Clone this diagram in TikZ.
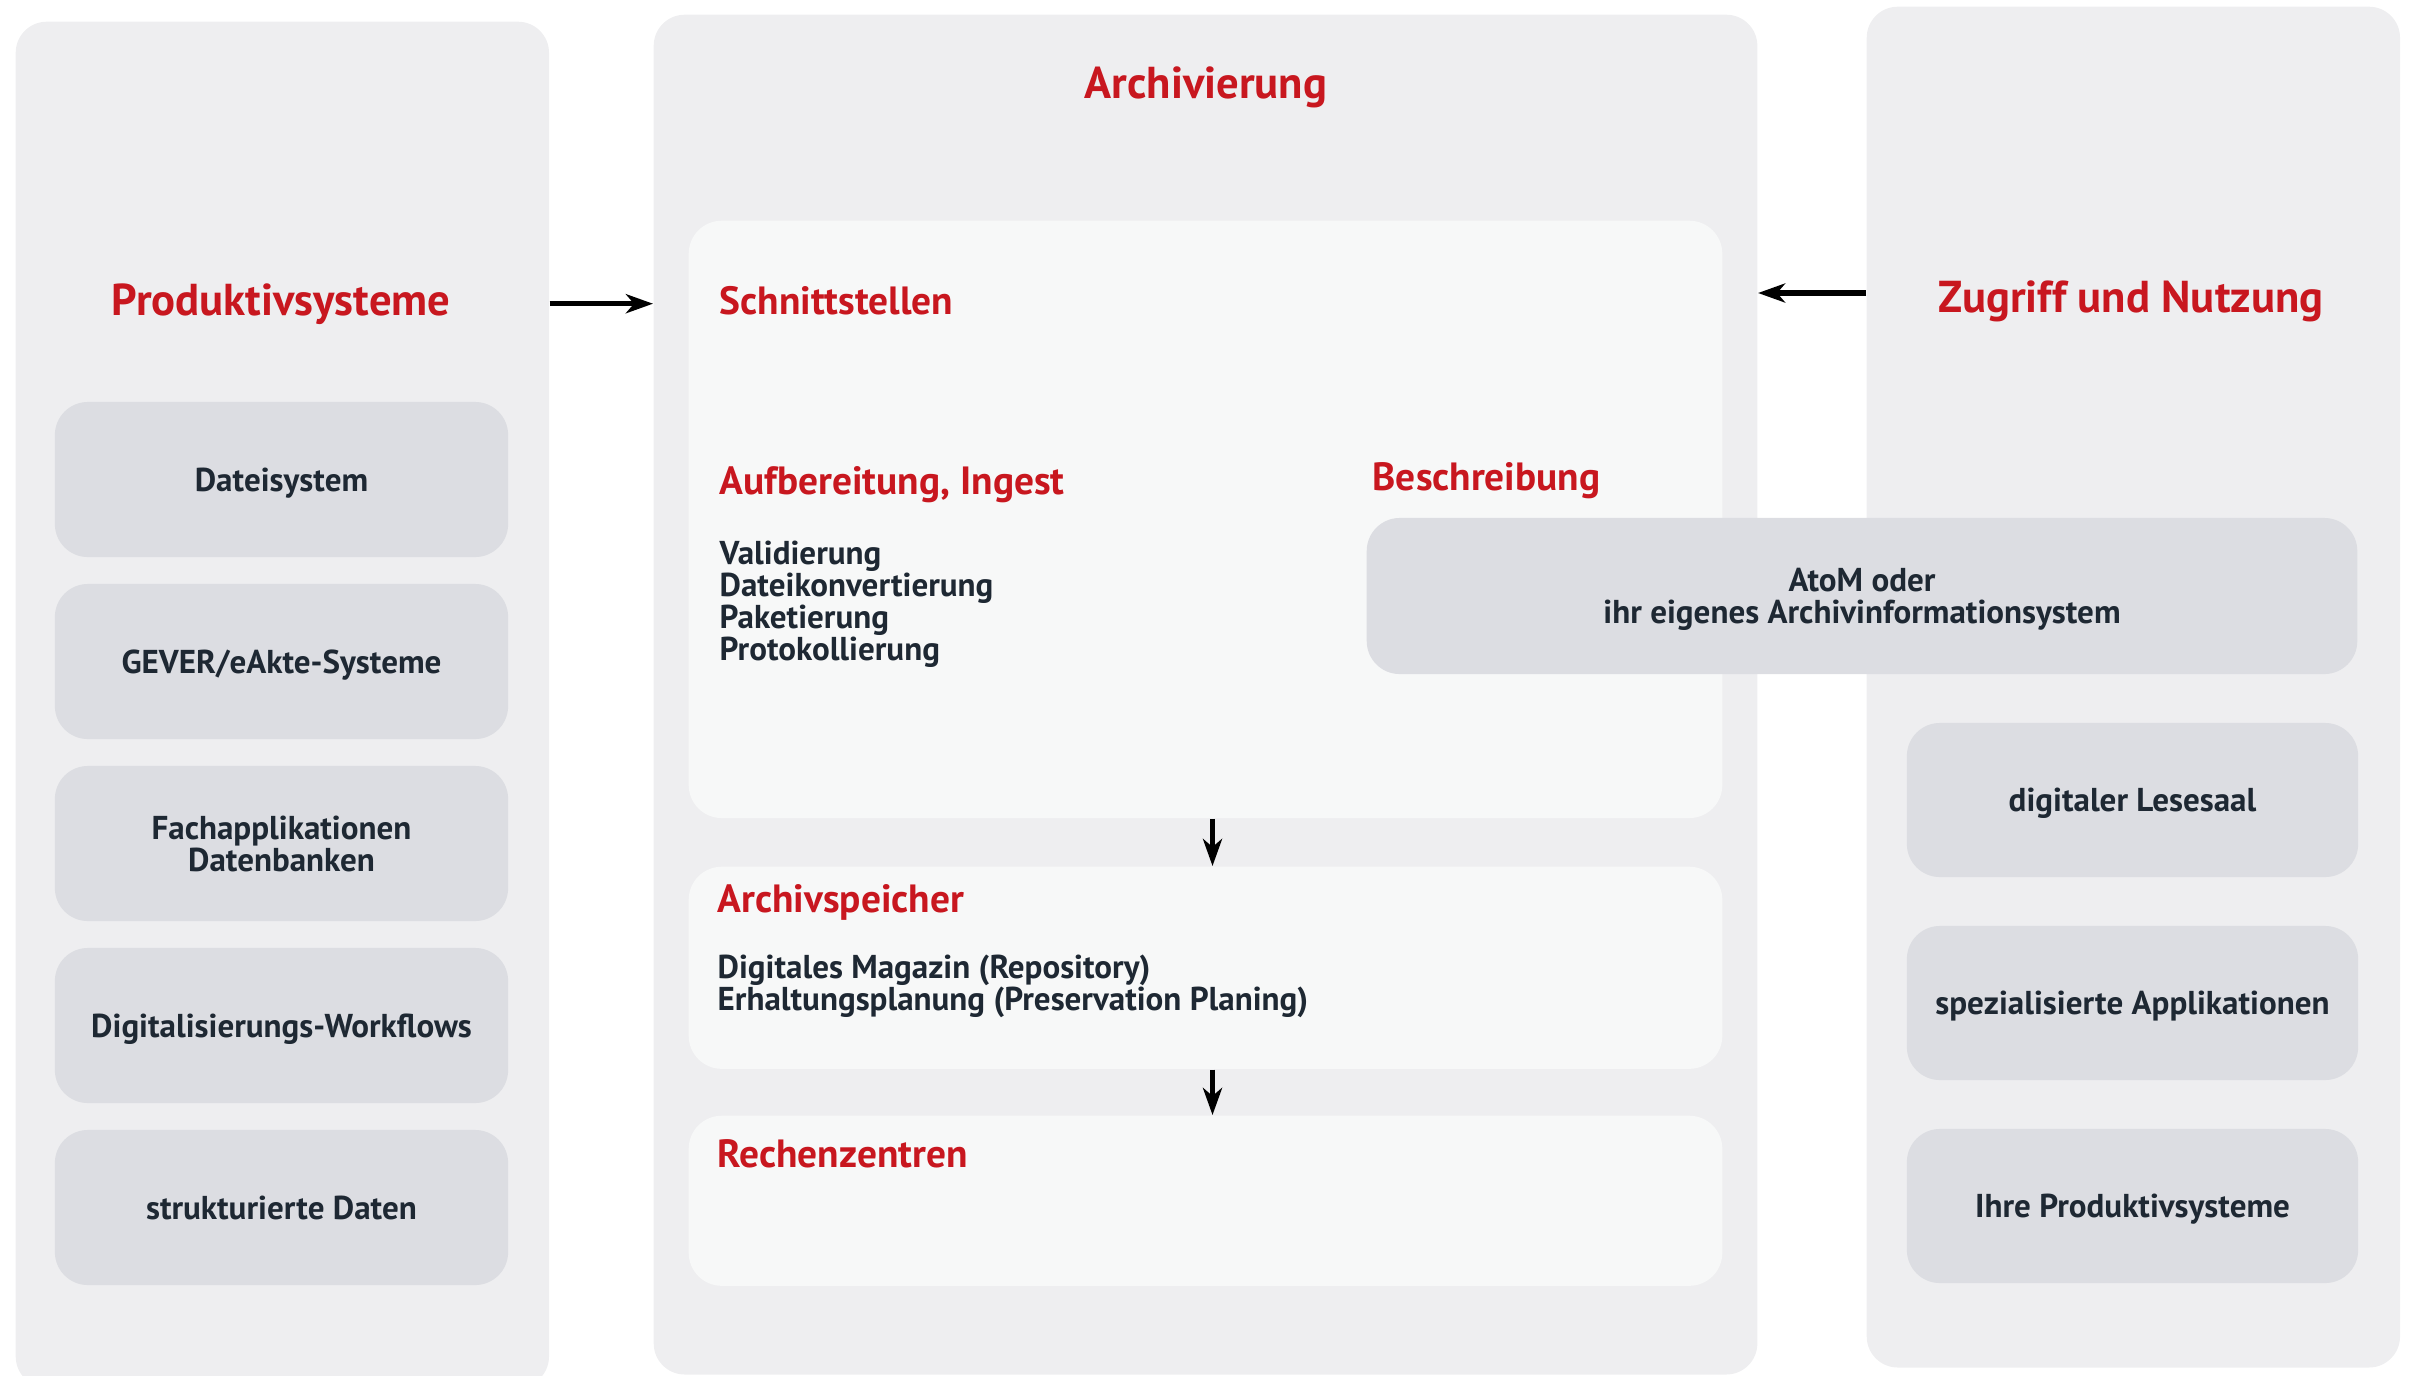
\documentclass[tikz,border=0pt]{standalone}
\usepackage{fontspec}
\setmainfont{PT Sans}
\usetikzlibrary{arrows.meta,positioning}
\definecolor{panelgrau}{HTML}{EEEEF0}
\definecolor{kastengrau}{HTML}{DCDDE2}
\definecolor{kastenhell}{HTML}{F7F8F8}
\definecolor{rot}{HTML}{C8171F}
\definecolor{dunkel}{HTML}{1E2833}
\begin{document}
\begin{tikzpicture}[x=0.01cm,y=-0.01cm,
	panel/.style={fill=panelgrau, rounded corners=0.31cm, anchor=north west, inner sep=0pt},
	hell/.style={fill=kastenhell, rounded corners=0.33cm, anchor=north west, inner sep=0pt},
	kasten/.style={fill=kastengrau, rounded corners=0.33cm, inner sep=0pt, align=center,
		text depth=0pt, text=dunkel, font=\bfseries\fontsize{9.4}{9.1}\selectfont},
	titel/.style={text=rot, inner sep=0pt, font=\bfseries\fontsize{12.7}{14}\selectfont},
	untertitel/.style={titel, anchor=base west, font=\bfseries\fontsize{11.2}{13}\selectfont},
	liste/.style={text=dunkel, inner sep=0pt, align=left, anchor=base west,
		font=\bfseries\fontsize{9.4}{9.1}\selectfont},
	pfeil/.style={-{Stealth[length=0.27cm,width=0.19cm,inset=0.08cm]}, line width=1.5pt}]
	\useasboundingbox (0,0) rectangle (2409,1375);
	% drei Spalten
	\node[panel, minimum width=5.33cm, minimum height=13.65cm] (prod) at (15,21) {};
	\node[panel, minimum width=11.03cm, minimum height=13.59cm] (arch) at (653,14) {};
	\node[panel, minimum width=5.33cm, minimum height=13.60cm] (zug) at (1866,6) {};
	% Archivierung innen
	\node[hell, minimum width=10.33cm, minimum height=5.97cm] (schnitt) at (688,220) {};
	\node[hell, minimum width=10.33cm, minimum height=2.02cm] (speicher) at (688,866) {};
	\node[hell, minimum width=10.33cm, minimum height=1.70cm] (rechen) at (688,1115) {};
	% Titel
	\node[titel, anchor=base] (prodtitel) at (281,315) {Produktivsysteme};
	\node[titel, anchor=base] (archtitel) at (1206,98) {Archivierung};
	\node[titel, anchor=base] (zugtitel) at (2131,312) {Zugriff und Nutzung};
	\node[untertitel] (schnitttitel) at (719,314) {Schnittstellen};
	\node[untertitel] (ingesttitel) at (719,494) {Aufbereitung, Ingest};
	\node[untertitel] (beschrtitel) at (1372,490) {Beschreibung};
	\node[untertitel] (speichertitel) at (717,912) {Archivspeicher};
	\node[untertitel] (rechentitel) at (717,1167) {Rechenzentren};
	% Listen (Grundlinie der letzten Zeile)
	\node[liste] (ingestliste) at (719,660) {Validierung\\Dateikonvertierung\\Paketierung\\Protokollierung};
	\node[liste] (speicherliste) at (717,1010) {Digitales Magazin (Repository)\\Erhaltungsplanung (Preservation Planing)};
	% Kaesten links
	\foreach \t [count=\i] in {Dateisystem, GEVER/eAkte-Systeme, {Fachapplikationen\\Datenbanken},
		Digitalisierungs-Workflows, strukturierte Daten}
	\node[kasten, minimum width=4.53cm, minimum height=1.55cm] (links\i) at (281.5,{479.5+(\i-1)*182}) {\t};
	% Kaesten rechts
	\foreach \t [count=\i] in {digitaler Lesesaal, spezialisierte Applikationen, Ihre Produktivsysteme}
	\node[kasten, minimum width=4.51cm, minimum height=1.54cm] (rechts\i) at (2132.5,{800+(\i-1)*203}) {\t};
	\node[kasten, minimum width=9.90cm, minimum height=1.56cm] (atom) at (1862,596) {AtoM oder\\ihr eigenes Archivinformationsystem};
	% Pfeile
	\draw[pfeil] (prodtitel -| prod.east) -- (prodtitel -| arch.west);
	\draw[pfeil] (zugtitel.base -| zug.west) ++(0,-19) coordinate (zugpfeil) -- (zugpfeil -| arch.east);
	\draw[pfeil] ([xshift=0.07cm]schnitt.south) -- ([xshift=0.07cm]speicher.north);
	\draw[pfeil] ([xshift=0.07cm]speicher.south) -- ([xshift=0.07cm]rechen.north);
\end{tikzpicture}
\end{document}
